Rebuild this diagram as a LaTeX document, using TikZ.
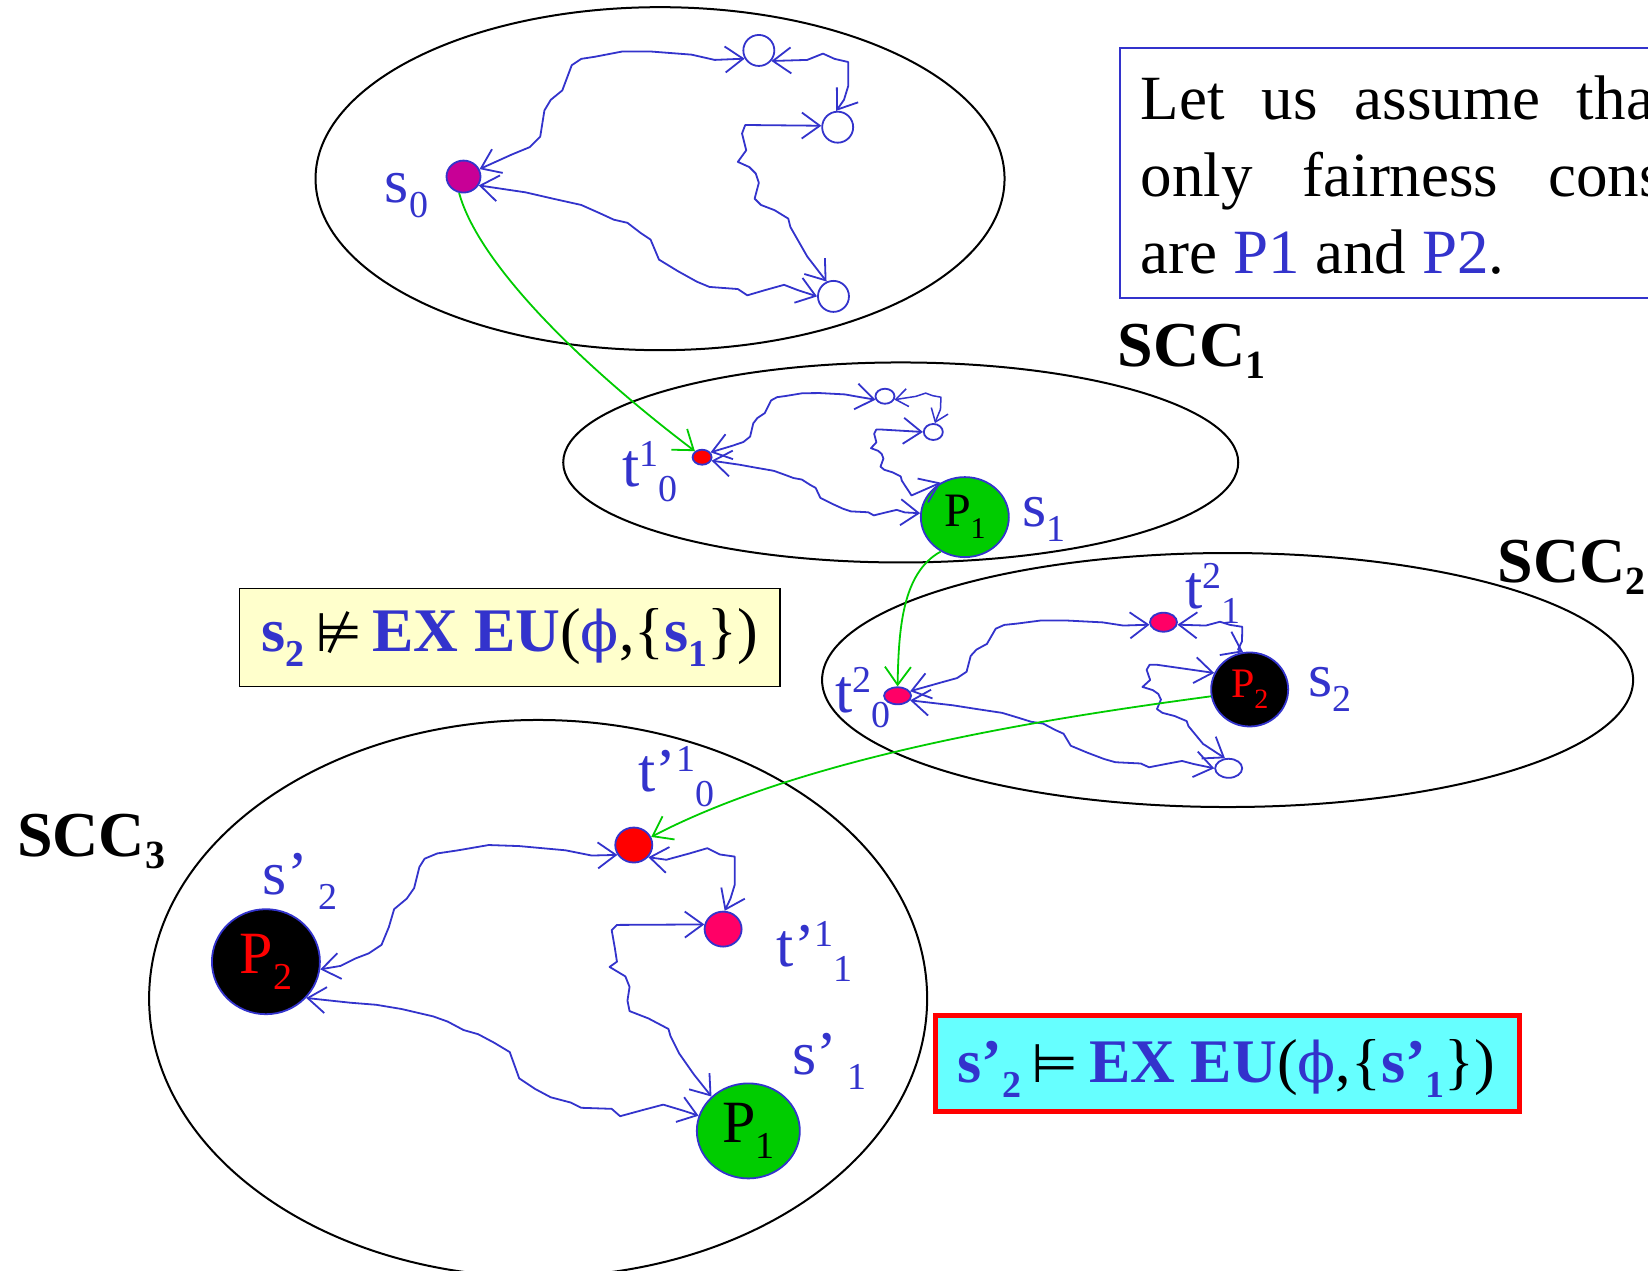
\documentclass[tikz,border=0pt]{standalone}
\usepackage{fontspec}
\setmainfont{Liberation Serif}
\newfontfamily\symf{DejaVu Sans}
\newfontfamily\phif{DejaVu Serif}
\usetikzlibrary{shapes.geometric,arrows.meta}
\definecolor{myblue}{RGB}{51,51,204}
\definecolor{mygreen}{RGB}{0,204,0}
\definecolor{mymag}{RGB}{200,0,150}
\definecolor{mycrim}{RGB}{255,0,102}
\definecolor{myyellow}{RGB}{255,255,204}
\definecolor{mycyan}{RGB}{102,255,255}
\newcommand\Sp[1]{\raisebox{20pt}{\fontsize{38}{38}\selectfont #1}}
\newcommand\Sb[1]{\raisebox{-15pt}{\fontsize{38}{38}\selectfont #1}}
\newcommand\Sbb[1]{\raisebox{-12pt}{\fontsize{40}{40}\selectfont\bfseries #1}}
\newcommand\Bsub[1]{\raisebox{-15pt}{\fontsize{38}{38}\selectfont\bfseries #1}}
\newcommand\pAB{-- (46,-21) -- (63,-28) -- (73,-38) -- (77,-63) -- (83,-73) -- (94,-82) -- (103,-106) -- (112,-112) -- (125,-114) -- (151,-119) -- (178,-119) -- (217,-116) -- (239,-111) --}
\newcommand\pBC{-- (327,-111) -- (342,-117) -- (353,-112) -- (366,-109) -- (366,-86) -- (362,-73) --}
\newcommand\pCD{-- (276,-49) -- (268,-49) -- (265,-41) -- (269,-25) -- (261,-14) -- (272,-9) -- (278,-3) -- (281,6) -- (277,21) -- (283,27) -- (296,32) -- (309,40) -- (311,48) -- (327,76) --}
\newcommand\pAD{-- (59,15) -- (85,21) -- (112,27) -- (130,35) -- (143,41) -- (156,44) -- (169,54) -- (178,60) -- (186,79) -- (204,90) -- (222,100) -- (234,105) -- (261,107) -- (270,113) -- (287,108) -- (305,103) -- (318,108) --}
\tikzset{
  bigbarb/.tip={Straight Barb[length=18pt,width=26pt]},
  smallbarb/.tip={Straight Barb[length=12pt,width=18pt]}}
\begin{document}
\begin{tikzpicture}[x=1.051pt,y=-1.051pt,
  scc/.style={draw=black,line width=2pt,ellipse,inner sep=0pt},
  st/.style={draw=myblue,line width=1.8pt,ellipse,inner sep=0pt},
  bedge/.style={draw=myblue,line width=1.8pt,line join=round,bigbarb-bigbarb},
  sedge/.style={draw=myblue,line width=1.5pt,line join=round,smallbarb-smallbarb},
  gedge/.style={draw=mygreen,line width=1.8pt,-bigbarb},
  lab/.style={anchor=base west,inner sep=0pt,text=myblue,font=\fontsize{62}{62}\selectfont},
  sccl/.style={anchor=base west,inner sep=0pt,font=\fontsize{64}{64}\selectfont\bfseries},
  txt/.style={anchor=base west,inner sep=0pt,font=\fontsize{63}{63}\selectfont}]
\useasboundingbox (0,0) rectangle (1568,1209);
\clip (0,0) rectangle (1568,1209);
\fill[white] (0,0) rectangle (1568,1209);

% SCC ellipses
\node[scc,minimum width=689pt,minimum height=343pt] (E0) at (628,170) {};
\node[scc,minimum width=675pt,minimum height=200pt] (E1) at (857,440) {};
\node[scc,minimum width=811pt,minimum height=254pt] (E2) at (1168,647) {};
\node[scc,minimum width=778pt,minimum height=557pt] (E3) at (512,950) {};

% text box
\node[draw=myblue,line width=2pt,minimum width=680pt,minimum height=250pt,anchor=north west,inner sep=0pt] (tbox) at (1065,45) {};
\node[txt] (tl1) at (1085,114) {Let\hspace{37pt}us\hspace{37pt}assume\hspace{37pt}that\hspace{37pt}the};
\node[txt] (tl2) at (1085,187) {only\hspace{50pt}fairness\hspace{50pt}constraints};
\node[txt] (tl3) at (1085,260) {are \textcolor{myblue}{P1} and \textcolor{myblue}{P2}.};

% SCC labels
\node[sccl] (L1) at (1063,349) {SCC\Sbb{1}};
\node[sccl] (L2) at (1425,554) {SCC\Sbb{2}};
\node[sccl] (L3) at (16,815) {SCC\Sbb{3}};

% states
\node[st,fill=mymag,minimum width=34pt,minimum height=32pt] (s0) at (441,168) {};
\node[st,fill=white,minimum width=31pt,minimum height=31pt] (c1) at (722,48) {};
\node[st,fill=white,minimum width=31pt,minimum height=31pt] (c2) at (797,121) {};
\node[st,fill=white,minimum width=31pt,minimum height=31pt] (c3) at (793,282) {};

\node[st,fill=red,minimum width=19pt,minimum height=15pt] (t10) at (668,435) {};
\node[st,fill=white,minimum width=19pt,minimum height=15pt] (d1) at (842,377) {};
\node[st,fill=white,minimum width=19pt,minimum height=16pt] (d2) at (888,411) {};
\node[st,fill=mygreen,minimum width=88pt,minimum height=80pt] (s1) at (918,492)
  {\fontsize{48}{48}\selectfont P\raisebox{-12pt}{\fontsize{30}{30}\selectfont 1}};

\node[st,fill=mycrim,minimum width=27pt,minimum height=17pt] (t20) at (854,662) {};
\node[st,fill=mycrim,minimum width=27pt,minimum height=19pt] (t21) at (1107,592) {};
\node[st,fill=black,minimum width=77pt,minimum height=74pt,text=red] (s2) at (1189,656)
  {\fontsize{42}{42}\selectfont P\raisebox{-11pt}{\fontsize{28}{28}\selectfont 2}};
\node[st,fill=white,minimum width=27pt,minimum height=19pt] (e1) at (1169,731) {};

\node[st,fill=red,minimum width=37pt,minimum height=35pt] (tp10) at (603,804) {};
\node[st,fill=mycrim,minimum width=37pt,minimum height=35pt] (tp11) at (688,884) {};
\node[st,fill=black,minimum width=108pt,minimum height=105pt,text=red] (sp2) at (253,915)
  {\fontsize{60}{60}\selectfont P\raisebox{-16pt}{\fontsize{38}{38}\selectfont 2}};
\node[st,fill=mygreen,minimum width=103pt,minimum height=95pt] (sp1) at (712,1076)
  {\fontsize{60}{60}\selectfont P\raisebox{-16pt}{\fontsize{38}{38}\selectfont 1}};

% labels
\node[lab] (ls0) at (366,193) {s\Sb{0}};
\node[lab] (lt10) at (592,463) {t\Sp{1}\Sb{0}};
\node[lab] (ls1) at (973,501) {s\Sb{1}};
\node[lab] (lt20) at (795,678) {t\Sp{2}\Sb{0}};
\node[lab] (lt21) at (1128,579) {t\Sp{2}\Sb{1}};
\node[lab] (ls2) at (1245,663) {s\Sb{2}};
\node[lab] (ltp10) at (607,753) {t’\Sp{1}\Sb{0}};
\node[lab] (lsp2) at (250,851) {s’\,\Sb{2}};
\node[lab] (ltp11) at (739,920) {t’\Sp{1}\Sb{1}};
\node[lab] (lsp1) at (754,1022) {s’\,\Sb{1}};

% blue edges, SCC0
\begin{scope}[shift={(s0.center)}]
\draw[bedge] (s0.25) \pAB (c1.210);
\draw[bedge] (c1.-40) \pBC (c2.95);
\draw[bedge] (c2.175) \pCD (c3.115);
\draw[bedge] (s0.-30) \pAD (c3.180);
\end{scope}
% SCC1
\begin{scope}[shift={(t10.center)},x={(0.6458pt,0.0062pt)},y={(-0.0231pt,-0.5297pt)}]
\draw[bedge] (t10.30) \pAB (d1.200);
\draw[sedge] (d1.-20) \pBC (d2.80);
\draw[bedge] (d2.180) \pCD (s1.125);
\draw[bedge] (t10.-20) \pAD (s1.175);
\end{scope}
% SCC2
\begin{scope}[shift={(t20.center)},x={(0.9375pt,0pt)},y={(-0.0147pt,-0.6327pt)}]
\draw[bedge] (t20.20) \pAB (t21.190);
\draw[bedge] (t21.-10) \pBC (s2.100);
\draw[bedge] (s2.155) \pCD (e1.110);
\draw[bedge] (t20.-20) \pAD (e1.180);
\end{scope}
% SCC3
\draw[bedge] (sp2.-8) -- (324,919) -- (338,912) -- (351,907) -- (363,899) -- (370,882) -- (375,865) -- (387,855) -- (394,845) -- (399,825) -- (404,817) -- (416,812) -- (436,809) -- (465,804) -- (494,805) -- (538,809) -- (563,814) -- (tp10.211);
\draw[bedge] (tp10.-40) -- (634,818) -- (656,812) -- (673,807) -- (685,813) -- (699,815) -- (699,842) -- (695,855) -- (tp11.85);
\draw[bedge] (tp11.166) -- (587,880) -- (582,885) -- (585,902) -- (587,915) -- (580,920) -- (595,929) -- (599,939) -- (597,952) -- (599,962) -- (617,969) -- (636,979) -- (638,986) -- (646,1002) -- (660,1022) -- (sp1.137);
\draw[bedge] (sp2.-42) -- (333,954) -- (358,956) -- (382,960) -- (412,967) -- (426,972) -- (441,980) -- (455,984) -- (470,992) -- (485,1001) -- (494,1026) -- (509,1036) -- (524,1044) -- (543,1049) -- (553,1054) -- (582,1055) -- (590,1062) -- (612,1056) -- (631,1051) -- (651,1057) -- (sp1.163);

% green edges
\draw[gedge] (s0.255) .. controls (455,250) and (550,345) .. (t10.140);
\draw[gedge] (s1.235) .. controls (858,545) and (855,600) .. (t20.90);
\draw[gedge] (s2.190) .. controls (1000,683) and (770,718) .. (tp10.25);

% formula boxes
\node[draw=black,line width=1.5pt,fill=myyellow,minimum width=540pt,minimum height=98pt,inner sep=0pt] (fb1) at (485,606.5) {};
\node[anchor=base,inner sep=0pt,font=\fontsize{62}{62}\selectfont] (ft1) at (485,620)
  {{\color{myblue}\bfseries s\Bsub{2}}\,{\symf\fontsize{54}{54}\selectfont ⊭}\,{\color{myblue}\bfseries EX EU}({\color{myblue}\phif\fontsize{56}{56}\selectfont ϕ},\{{\color{myblue}\bfseries s\Bsub{1}}\})};
\node[draw=red,line width=5pt,fill=mycyan,minimum width=584pt,minimum height=96pt,inner sep=0pt] (fb2) at (1168,1012) {};
\node[anchor=base,inner sep=0pt,font=\fontsize{62}{62}\selectfont] (ft2) at (1167,1030)
  {{\color{myblue}\bfseries s’\Bsub{2}}\,{\symf\fontsize{54}{54}\selectfont ⊨}\,{\color{myblue}\bfseries EX EU}({\color{myblue}\phif\fontsize{56}{56}\selectfont ϕ},\{{\color{myblue}\bfseries s’\Bsub{1}}\})};
\end{tikzpicture}
\end{document}
